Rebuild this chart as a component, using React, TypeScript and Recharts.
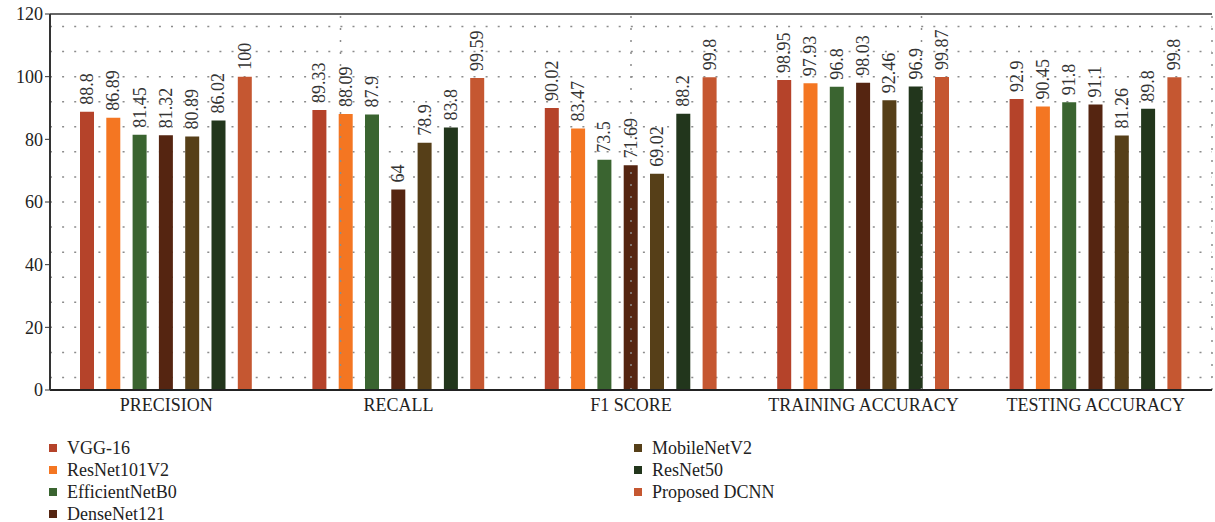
import React from "react";
import {
  Bar,
  BarChart,
  CartesianGrid,
  LabelList,
  ReferenceLine,
  XAxis,
  YAxis,
} from "recharts";

const metrics = [
  "PRECISION",
  "RECALL",
  "F1 SCORE",
  "TRAINING ACCURACY",
  "TESTING ACCURACY",
];

const vgg16 = [88.8, 89.33, 90.02, 98.95, 92.9];
const resnet101v2 = [86.89, 88.09, 83.47, 97.93, 90.45];
const efficientnetb0 = [81.45, 87.9, 73.5, 96.8, 91.8];
const densenet121 = [81.32, 64, 71.69, 98.03, 91.1];
const mobilenetv2 = [80.89, 78.9, 69.02, 92.46, 81.26];
const resnet50 = [86.02, 83.8, 88.2, 96.9, 89.8];
const proposed = [100, 99.59, 99.8, 99.87, 99.8];

const yTicks = [0, 20, 40, 60, 80, 100, 120];
const boundaries = [1, 2, 3, 4];

const models = [
  { key: "vgg", name: "VGG-16", values: vgg16, color: "#b5432a" },
  { key: "r101", name: "ResNet101V2", values: resnet101v2, color: "#f47622" },
  { key: "eff", name: "EfficientNetB0", values: efficientnetb0, color: "#3a6430" },
  { key: "dense", name: "DenseNet121", values: densenet121, color: "#552511" },
  { key: "mobile", name: "MobileNetV2", values: mobilenetv2, color: "#563f18" },
  { key: "r50", name: "ResNet50", values: resnet50, color: "#22361c" },
  { key: "dcnn", name: "Proposed DCNN", values: proposed, color: "#c55731" },
];

const data = metrics.map((m, i) => {
  const row: Record<string, string | number> = { metric: m };
  models.forEach((s) => {
    row[s.key] = s.values[i];
  });
  return row;
});

// dotted minor grid every 4 units
const minorGrid = Array.from({ length: 29 }, (_, i) => (i + 1) * 4);

const FONT = "'Liberation Serif', 'Times New Roman', serif";
const tickStyle = { fontFamily: FONT, fontSize: 18, fill: "#222" };

const renderValue = (props: any) => {
  const { x, y, width, value } = props;
  const cx = Number(x) + Number(width) / 2;
  const top = Number(y) - 7;
  return (
    <text
      x={cx}
      y={top}
      transform={`rotate(-90, ${cx}, ${top})`}
      textAnchor="start"
      dominantBaseline="central"
      style={{ fontFamily: FONT, fontSize: 18, fill: "#333" }}
    >
      {value}
    </text>
  );
};

export default function App() {
  const leftCol = models.slice(0, 4);
  const rightCol = models.slice(4);
  const legendItem = (m: (typeof models)[number]) => (
    <div
      key={m.key}
      style={{ display: "flex", alignItems: "center", height: 22 }}
    >
      <span
        style={{
          display: "inline-block",
          width: 8,
          height: 8,
          background: m.color,
          marginRight: 10,
        }}
      />
      <span>{m.name}</span>
    </div>
  );

  return (
    <div
      style={{
        position: "absolute",
        left: 0,
        top: 0,
        width: 1215,
        height: 522,
        background: "#fff",
        fontFamily: FONT,
      }}
    >
      <BarChart
        width={1215}
        height={425}
        data={data}
        margin={{ top: 14, right: 3, bottom: 0, left: 0 }}
        barSize={14}
        barGap={12.3}
        style={{ fontFamily: FONT }}
      >
        <CartesianGrid
          vertical={false}
          horizontalValues={minorGrid}
          stroke="#8c8c8c"
          strokeWidth={1.5}
          strokeDasharray="2 10.1"
        />
        <XAxis
          dataKey="metric"
          tickLine={false}
          axisLine={{ stroke: "#222", strokeWidth: 2 }}
          height={35}
          tick={tickStyle}
        />
        <XAxis xAxisId="grid" type="number" domain={[0, 5]} hide />
        <YAxis
          domain={[0, 120]}
          ticks={yTicks}
          width={50}
          tickSize={5}
          axisLine={{ stroke: "#333", strokeWidth: 2 }}
          tickLine={{ stroke: "#333" }}
          tick={tickStyle}
        />
        {boundaries.map((b) => (
          <ReferenceLine
            key={b}
            x={b}
            xAxisId="grid"
            stroke="#8c8c8c"
            strokeWidth={1.5}
            strokeDasharray="2 10"
          />
        ))}
        <ReferenceLine y={120} stroke="#666" strokeWidth={2} />
        {models.map((m) => (
          <Bar
            key={m.key}
            dataKey={m.key}
            name={m.name}
            fill={m.color}
            isAnimationActive={false}
          >
            <LabelList dataKey={m.key} content={renderValue} />
          </Bar>
        ))}
      </BarChart>
      <div
        style={{
          position: "absolute",
          left: 49,
          top: 437,
          display: "flex",
          fontSize: 18,
          color: "#222",
        }}
      >
        <div style={{ width: 585 }}>{leftCol.map(legendItem)}</div>
        <div>{rightCol.map(legendItem)}</div>
      </div>
    </div>
  );
}
